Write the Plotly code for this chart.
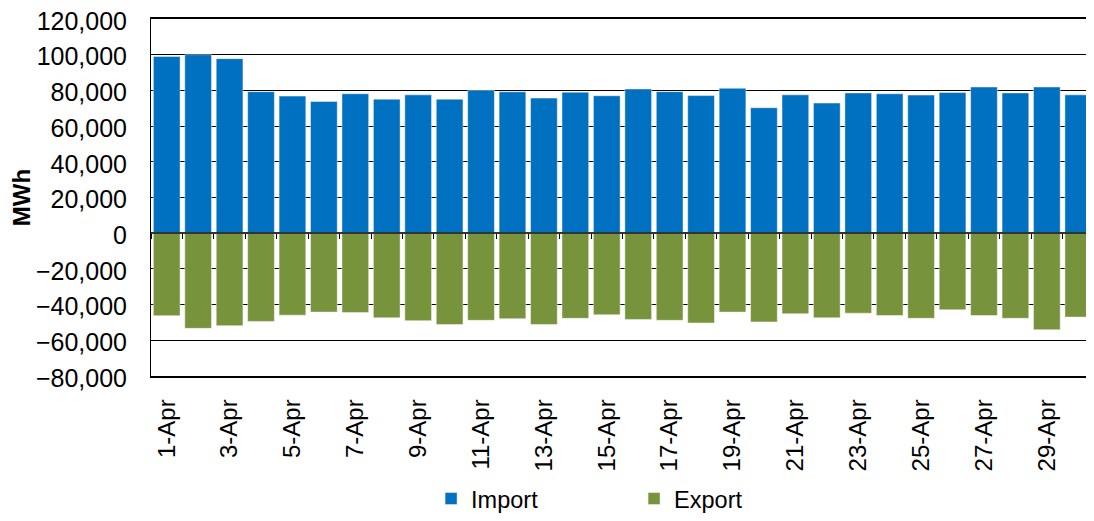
import plotly.graph_objects as go

days = [f"{d}-Apr" for d in range(1, 31)]
import_mwh = [99000, 100000, 97800, 79300, 76800, 73800, 78100, 75100, 77500, 75100,
              80100, 79200, 75700, 79000, 77000, 80800, 79300, 77100, 81200, 70300,
              77500, 72900, 78600, 78100, 77400, 78800, 81900, 78600, 81900, 77500]
export_mwh = [-46200, -53300, -51800, -49400, -45900, -44200, -44400, -47400, -49000, -51200,
              -48800, -47900, -51100, -47700, -45700, -48300, -48800, -50300, -44200, -49700,
              -45100, -47400, -44800, -46100, -47700, -42900, -46100, -47700, -54100, -47000]
tick_labels = days[::2]
y_ticks = list(range(-80000, 120001, 20000))

FONT = "Arial, Liberation Sans, sans-serif"

fig = go.Figure()
fig.add_trace(go.Bar(x=days, y=import_mwh, name="Import",
                     marker=dict(color="#0070C0", line=dict(color="rgba(255,255,255,0.45)", width=1))))
fig.add_trace(go.Bar(x=days, y=export_mwh, name="Export",
                     marker=dict(color="#77933C", line=dict(color="rgba(255,255,255,0.45)", width=1))))
# empty helper trace so the zero-crossing tick axis (x2) is rendered
fig.add_trace(go.Scatter(x=[], y=[], xaxis="x2", showlegend=False, hoverinfo="skip"))

# page body has a default margin, so the figure is sized to fit inside the window
fig.update_layout(
    width=1086, height=513,
    margin=dict(l=143, r=0, t=11, b=139),
    paper_bgcolor="white", plot_bgcolor="white",
    barmode="relative", bargap=0.15,
    font=dict(family=FONT, size=24, color="black"),
    showlegend=True,
    legend=dict(orientation="h", x=0.297, xanchor="left", y=-0.344, yanchor="middle",
                entrywidth=158, entrywidthmode="pixels", font=dict(size=23.5),
                itemclick=False),
    xaxis=dict(type="category", tickmode="array", tickvals=tick_labels, ticktext=tick_labels,
               tickangle=-90, ticks="", showline=True, mirror=True, linecolor="black",
               linewidth=1.5, showgrid=False, ticklabelstandoff=12, automargin=False,
               tickfont=dict(size=24)),
    xaxis2=dict(overlaying="x", anchor="free", position=0.4, type="linear",
                range=[-0.5, 29.5], tick0=0.5, dtick=1, ticks="outside", ticklen=5,
                tickcolor="black", tickwidth=1, showline=True, linecolor="#333", linewidth=1.5,
                showticklabels=False, showgrid=False, zeroline=False, automargin=False),
    yaxis=dict(range=[-80000, 120000], tickvals=y_ticks, tickformat=",d",
               showgrid=True, gridcolor="black", gridwidth=1, zeroline=False,
               showline=True, mirror=True, linecolor="black", linewidth=1,
               ticks="", ticklabelstandoff=18, ticklabelshift=2, automargin=False,
               ticklabeloverflow="allow",
               title=dict(text="<b>MWh</b>", font=dict(size=24), standoff=6),
               tickfont=dict(size=25)),
)

fig.write_html("out.html")
